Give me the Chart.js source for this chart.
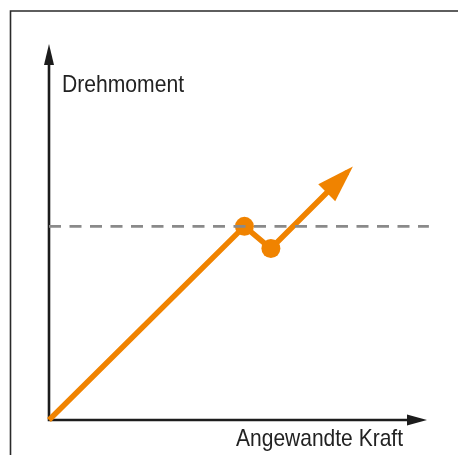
<!DOCTYPE html>
<html>
<head>
<meta charset="utf-8">
<script src="https://cdn.jsdelivr.net/npm/chart.js@4"></script>
<style>
  html, body { margin: 0; padding: 0; background: #ffffff; }
  #wrap { position: relative; width: 458px; height: 455px; }
</style>
</head>
<body>
<div id="wrap"><canvas id="c" width="458" height="455"></canvas></div>
<script>
// Torque curve: rises linearly, drops when the limit is reached, rises again
const forceValues  = [0, 51.7, 58.7, 78.9];
const torqueValues = [0, 51.5, 45.6, 65.9];
const markerRadius = [0, 9.5, 9.5, 0];
// Torque limit (dashed reference line)
const limitForce  = [0, 100.5];
const limitTorque = [51.5, 51.5];
// Axis titles
const yTitle = 'Drehmoment';
const xTitle = 'Angewandte Kraft';

const ORANGE = '#F08300';
const INK = '#1c1c1c';
const FONT = '"Liberation Sans", Arimo, sans-serif';

function arrowHead(ctx, tipX, tipY, fromX, fromY, len, half, color) {
  const a = Math.atan2(tipY - fromY, tipX - fromX);
  const bx = tipX - len * Math.cos(a), by = tipY - len * Math.sin(a);
  const nx = -Math.sin(a) * half, ny = Math.cos(a) * half;
  ctx.beginPath();
  ctx.moveTo(tipX, tipY);
  ctx.lineTo(bx + nx, by + ny);
  ctx.lineTo(bx - nx, by - ny);
  ctx.closePath();
  ctx.fillStyle = color;
  ctx.fill();
}

// Condensed title text: squeeze a regular face to the given width
function narrowText(ctx, text, left, baseline, width) {
  const w = ctx.measureText(text).width;
  ctx.save();
  ctx.translate(left, baseline);
  ctx.scale(width / w, 1);
  ctx.textAlign = 'left';
  ctx.fillText(text, 0, 0);
  ctx.restore();
}

// Frame, axes with arrowheads and axis titles
const decor = {
  id: 'decor',
  beforeDatasetsDraw(chart) {
    const ctx = chart.ctx;
    const xs = chart.scales.x, ys = chart.scales.y;
    const x0 = xs.getPixelForValue(0), x1 = xs.getPixelForValue(100);
    const y0 = ys.getPixelForValue(0), y1 = ys.getPixelForValue(100);
    ctx.save();
    // frame
    ctx.strokeStyle = '#2a2a2a';
    ctx.lineWidth = 1.6;
    ctx.beginPath();
    ctx.moveTo(10.5, 460);
    ctx.lineTo(10.5, 11);
    ctx.lineTo(470, 11);
    ctx.stroke();
    // axes
    ctx.strokeStyle = INK;
    ctx.lineWidth = 2.6;
    ctx.lineCap = 'butt';
    ctx.beginPath();
    ctx.moveTo(x0, y0 + 1.3);
    ctx.lineTo(x0, y1 + 15);
    ctx.moveTo(x0 - 1.3, y0);
    ctx.lineTo(x1 - 15, y0);
    ctx.stroke();
    arrowHead(ctx, x0, y1, x0, y0, 21, 5, INK);
    arrowHead(ctx, x1, y0, x0, y0, 20, 5.5, INK);
    // titles
    ctx.fillStyle = '#222';
    ctx.font = '24px ' + FONT;
    ctx.textBaseline = 'alphabetic';
    narrowText(ctx, yTitle, x0 + 13, 92, 122);
    narrowText(ctx, xTitle, 236, 446, 167);
    ctx.restore();
  },
  afterDatasetsDraw(chart) {
    const ctx = chart.ctx;
    const meta = chart.getDatasetMeta(1).data;
    const n = meta.length;
    const p = meta[n - 1], q = meta[n - 2];
    const a = Math.atan2(p.y - q.y, p.x - q.x);
    const tipX = p.x + 8 * Math.cos(a), tipY = p.y + 8 * Math.sin(a);
    ctx.save();
    arrowHead(ctx, tipX, tipY, q.x, q.y, 37, 12, ORANGE);
    ctx.restore();
  }
};

new Chart(document.getElementById('c'), {
  type: 'scatter',
  data: {
    datasets: [
      {
        data: limitForce.map((x, i) => ({ x, y: limitTorque[i] })),
        showLine: true,
        borderColor: '#8a8a8a',
        borderWidth: 2.6,
        borderDash: [12, 8.5],
        pointRadius: 0
      },
      {
        data: forceValues.map((x, i) => ({ x, y: torqueValues[i] })),
        showLine: true,
        borderColor: ORANGE,
        borderWidth: 5.5,
        borderJoinStyle: 'round',
        pointRadius: markerRadius,
        pointBackgroundColor: ORANGE,
        pointBorderColor: ORANGE,
        pointBorderWidth: 0
      }
    ]
  },
  options: {
    responsive: false,
    animation: false,
    events: [],
    layout: { padding: { left: 49, top: 44, right: 31, bottom: 35 } },
    plugins: { legend: { display: false }, tooltip: { enabled: false } },
    scales: {
      x: { type: 'linear', min: 0, max: 100, display: false },
      y: { type: 'linear', min: 0, max: 100, display: false }
    },
    clip: false
  },
  plugins: [decor]
});
</script>
</body>
</html>
